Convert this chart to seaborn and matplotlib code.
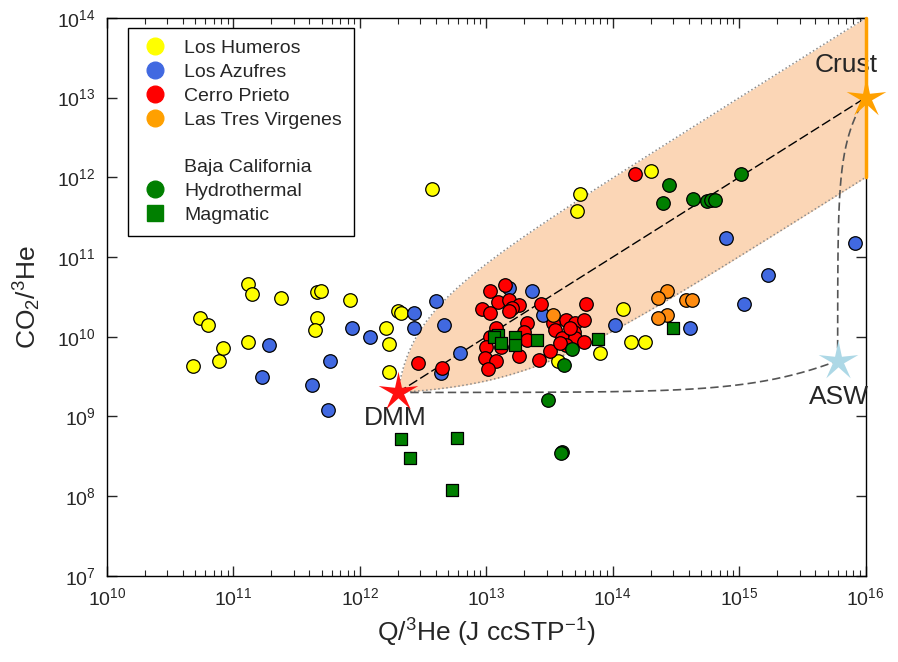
import numpy as np
import pandas as pd
import matplotlib
matplotlib.use("Agg")
import matplotlib.pyplot as plt
import seaborn as sns
from matplotlib.lines import Line2D
from matplotlib.path import Path
from matplotlib.ticker import LogLocator, NullLocator

# Q/3He (J ccSTP-1) and CO2/3He
humeros_q = [5.5e10, 6.3e10, 4.8e10, 7.7e10, 8.3e10, 1.3e11, 1.3e11, 1.4e11, 2.4e11, 4.6e11,
             4.9e11, 4.6e11, 4.4e11, 8.3e11, 1.6e12, 1.7e12, 1.7e12, 2.0e12, 2.1e12, 3.7e12,
             5.5e13, 5.2e13, 2.0e14, 1.2e14, 1.4e14, 1.8e14, 7.9e13, 3.7e13]
humeros_co2 = [1.7e10, 1.4e10, 4.3e9, 4.9e9, 7.2e9, 8.7e9, 4.6e10, 3.4e10, 3.1e10, 3.6e10,
               3.7e10, 1.7e10, 1.2e10, 2.9e10, 1.3e10, 8.0e9, 3.6e9, 2.1e10, 2.0e10, 7.1e11,
               6.2e11, 3.8e11, 1.2e12, 2.2e10, 8.5e9, 8.5e9, 6.3e9, 4.9e9]

azufres_q = [1.9e11, 1.7e11, 5.8e11, 4.2e11, 5.6e11, 8.6e11, 1.2e12, 2.7e12, 2.7e12, 4.0e12,
             4.6e12, 6.2e12, 4.4e12, 2.3e13, 2.8e13, 1.05e14, 7.9e14, 1.7e15, 1.1e15, 4.1e14,
             8.3e15, 1.5e13]
azufres_co2 = [7.8e9, 3.1e9, 4.9e9, 2.5e9, 1.2e9, 1.3e10, 1.0e10, 2.0e10, 1.3e10, 2.8e10,
               1.4e10, 6.2e9, 3.5e9, 3.7e10, 1.9e10, 1.4e10, 1.75e11, 6.0e10, 2.6e10, 1.3e10,
               1.5e11, 4.1e10]

prieto_q = [1.4e13, 1.07e13, 1.24e13, 1.5e13, 1.8e13, 1.6e13, 9.2e12, 1.07e13, 1.5e13, 2.7e13,
            6.1e13, 1.2e13, 2.1e13, 2.0e13, 1.07e13, 1.0e13, 1.3e13, 2.1e13, 9.7e12, 1.2e13,
            1.03e13, 1.8e13, 2.6e13, 3.2e13, 4.3e13, 5.0e13, 5.9e13, 3.4e13, 3.5e13, 4.9e13,
            4.0e13, 5.0e13, 4.3e13, 5.9e13, 4.5e12, 2.9e12, 1.5e14, 4.6e13, 3.8e13]
prieto_co2 = [4.5e10, 3.8e10, 2.7e10, 2.9e10, 2.5e10, 2.3e10, 2.2e10, 2.0e10, 2.1e10, 2.6e10,
              2.6e10, 1.3e10, 1.5e10, 1.16e10, 1.0e10, 7.5e9, 7.5e9, 9.1e9, 5.4e9, 4.9e9,
              3.9e9, 5.8e9, 5.1e9, 6.7e9, 1.6e10, 1.5e10, 1.6e10, 1.5e10, 1.2e10, 1.16e10,
              9.6e9, 9.6e9, 7.9e9, 8.7e9, 4.0e9, 4.7e9, 1.1e12, 1.3e10, 8.4e9]

virgenes_q = [3.4e13, 2.7e14, 2.3e14, 3.8e14, 4.2e14, 2.7e14, 2.3e14]
virgenes_co2 = [1.9e10, 3.7e10, 3.1e10, 2.9e10, 2.9e10, 1.9e10, 1.7e10]

hydro_q = [4.8e13, 4.1e13, 3.1e13, 4.0e13, 3.9e13, 2.8e14, 2.5e14, 4.3e14, 5.6e14, 6.0e14,
           6.4e14, 1.03e15]
hydro_co2 = [7.0e9, 4.4e9, 1.6e9, 3.6e8, 3.5e8, 8.0e11, 4.8e11, 5.3e11, 5.0e11, 5.2e11,
             5.2e11, 1.1e12]

magma_q = [1.24e13, 1.15e13, 1.3e13, 1.7e13, 1.7e13, 2.5e13, 7.7e13, 3.0e14, 2.1e12, 2.5e12,
           5.9e12, 5.4e12]
magma_co2 = [1.05e10, 1.0e10, 8.3e9, 1.0e10, 7.9e9, 9.1e9, 9.3e9, 1.3e10, 5.2e8, 3.0e8,
             5.4e8, 1.2e8]

# end-members
dmm = (2e12, 2e9)
crust = (1e16, 1e13)
crust_range = (1e12, 1e14)
asw = (6e15, 5e9)

x_ticks = [1e10, 1e11, 1e12, 1e13, 1e14, 1e15, 1e16]
y_ticks = [1e7, 1e8, 1e9, 1e10, 1e11, 1e12, 1e13, 1e14]

groups = ["Los Humeros", "Los Azufres", "Cerro Prieto", "Las Tres Virgenes",
          "Hydrothermal", "Magmatic"]
colors = ["#FFFF00", "#4169E1", "#FF0000", "#FF8C10", "#007F00", "#007F00"]
markers = ["o", "o", "o", "o", "o", "s"]

frames = []
for name, q, c in zip(groups,
                      [humeros_q, azufres_q, prieto_q, virgenes_q, hydro_q, magma_q],
                      [humeros_co2, azufres_co2, prieto_co2, virgenes_co2, hydro_co2, magma_co2]):
    frames.append(pd.DataFrame({"Q": q, "CO2": c, "group": name}))
df = pd.concat(frames, ignore_index=True)

sns.set_style("ticks")
plt.rcParams["font.family"] = ["Liberation Sans", "DejaVu Sans"]
plt.rcParams["mathtext.fontset"] = "custom"
plt.rcParams["mathtext.rm"] = "Liberation Sans"
plt.rcParams["mathtext.it"] = "Liberation Sans:italic"
plt.rcParams["mathtext.bf"] = "Liberation Sans:bold"

fig = plt.figure(figsize=(8.98, 6.62), dpi=100)
ax = fig.add_axes([0.119, 0.130, 0.845, 0.843])
ax.set_xscale("log")
ax.set_yscale("log")


def mix(a, b, n=600):
    # binary mixing: straight line in linear space
    f = np.concatenate([[0.0], np.logspace(-7, 0, n)])
    return a[0] + f * (b[0] - a[0]), a[1] + f * (b[1] - a[1])


# shaded DMM - crust band
xu, yu = mix(dmm, (crust[0], crust_range[1]))
xl, yl = mix(dmm, (crust[0], crust_range[0]))
ax.fill_between(xu, yl, yu, color="#FBD6B6", lw=0, zorder=1)
ax.plot(xu, yu, ls=":", color="#8c8c8c", lw=1.1, zorder=2)
ax.plot(xl, yl, ls=":", color="#8c8c8c", lw=1.1, zorder=2)
xm, ym = mix(dmm, crust)
ax.plot(xm, ym, color="black", lw=1, dashes=(7, 2.5), zorder=2)

# ASW mixing curves
xa, ya = mix(dmm, asw)
ax.plot(xa, ya, color="#555555", lw=1.2, dashes=(5, 2.5), zorder=2)
xb, yb = mix(asw, crust)
ax.plot(xb, yb, color="#555555", lw=1.2, dashes=(5, 2.5), zorder=2)

# crust range
ax.plot([crust[0], crust[0]], crust_range, color="#FFA000", lw=2.5, zorder=6, clip_on=False)

for name, col, mk in zip(groups, colors, markers):
    sub = df[df["group"] == name]
    sns.scatterplot(data=sub, x="Q", y="CO2", ax=ax, color=col, marker=mk,
                    s=95 if mk == "o" else 80, edgecolor="black", linewidth=0.9,
                    legend=False, zorder=4)

star = Path.unit_regular_star(5, innerCircle=0.28)
ax.plot(*dmm, marker=star, ms=30, color="#FF1010", mew=0, zorder=7, clip_on=False)
ax.plot(*crust, marker=star, ms=30, color="#FFA000", mew=0, zorder=7, clip_on=False)
ax.plot(*asw, marker=star, ms=30, color="#ADD8E6", mew=0, zorder=7, clip_on=False)

ax.text(1.9e12, 9.5e8, "DMM", fontsize=19, ha="center", va="center")
ax.text(7e15, 2.6e13, "Crust", fontsize=19, ha="center", va="center")
ax.text(6.2e15, 1.75e9, "ASW", fontsize=19, ha="center", va="center")

ax.set_xlim(1e10, 1e16)
ax.set_ylim(1e7, 1e14)
ax.set_xticks(x_ticks)
ax.set_yticks(y_ticks)
ax.xaxis.set_minor_locator(LogLocator(base=10, subs=np.arange(2, 10), numticks=20))
ax.yaxis.set_minor_locator(NullLocator())
ax.tick_params(which="both", direction="in", top=True, right=True, labelsize=14)
ax.tick_params(which="major", length=7, width=1, pad=8)
ax.tick_params(which="minor", length=4, width=0.8)
for sp in ax.spines.values():
    sp.set_linewidth(1)
    sp.set_color("black")

ax.set_xlabel(r"Q/$^{3}$He (J ccSTP$^{-1}$)", fontsize=19, labelpad=6)
ax.set_ylabel(r"CO$_{2}$/$^{3}$He", fontsize=19, labelpad=10)

handles = [
    Line2D([0], [0], ls="", marker="o", ms=12, color="#FFFF00", label="Los Humeros"),
    Line2D([0], [0], ls="", marker="o", ms=12, color="#4169E1", label="Los Azufres"),
    Line2D([0], [0], ls="", marker="o", ms=12, color="#FF0000", label="Cerro Prieto"),
    Line2D([0], [0], ls="", marker="o", ms=12, color="#FFA000", label="Las Tres Virgenes"),
    Line2D([0], [0], ls="", marker="", label=" "),
    Line2D([0], [0], ls="", marker="", label="Baja California"),
    Line2D([0], [0], ls="", marker="o", ms=12, color="#007F00", label="Hydrothermal"),
    Line2D([0], [0], ls="", marker="s", ms=11, color="#007F00", label="Magmatic"),
]
leg = ax.legend(handles=handles, loc="upper left", bbox_to_anchor=(0.028, 0.982),
                borderaxespad=0, fontsize=14, frameon=True, fancybox=False,
                edgecolor="black", framealpha=1, labelspacing=0.32,
                handlelength=1.6, handletextpad=0.7, borderpad=0.6)
leg.get_frame().set_linewidth(1)
leg.set_zorder(10)

fig.savefig("out.png", dpi=100)
